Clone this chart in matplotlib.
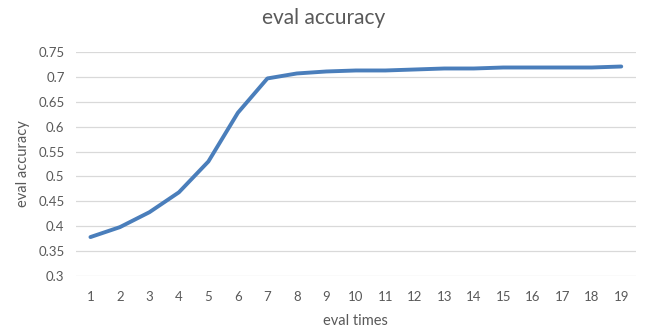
import numpy as np
from matplotlib import pyplot as plt

# eval accuracy per eval step
eval_times = list(range(1, 20))
eval_accuracy = [0.378, 0.398, 0.428, 0.468, 0.530, 0.628, 0.697, 0.707, 0.711, 0.713,
                 0.713, 0.715, 0.717, 0.717, 0.719, 0.719, 0.719, 0.719, 0.721]
y_ticks = [0.3, 0.35, 0.4, 0.45, 0.5, 0.55, 0.6, 0.65, 0.7, 0.75]
y_tick_labels = ["0.3", "0.35", "0.4", "0.45", "0.5", "0.55", "0.6", "0.65", "0.7", "0.75"]

plt.rcParams['font.family'] = ['Lato', 'DejaVu Sans']
text_color = '#595959'

fig = plt.figure(figsize=(6.47, 3.36), dpi=100)
ax = fig.add_axes([0.117, 0.179, 0.866, 0.666])

ax.plot(eval_times, eval_accuracy, color='#4a7ebb', linewidth=2.8, solid_capstyle='round')

ax.set_xlim(0.5, 19.5)
ax.set_ylim(0.3, 0.75)
ax.set_xticks(eval_times)
ax.set_yticks(y_ticks)
ax.set_yticklabels(y_tick_labels)

ax.grid(axis='y', color='#d9d9d9', linewidth=0.9)
ax.set_axisbelow(True)
for side in ['top', 'right', 'left', 'bottom']:
    ax.spines[side].set_visible(False)
ax.tick_params(length=0, labelsize=9.5, labelcolor=text_color)
ax.tick_params(axis='x', pad=11)
ax.tick_params(axis='y', pad=8)

ax.set_xlabel("eval times", fontsize=10.5, color=text_color, labelpad=8)
ax.set_ylabel("eval accuracy", fontsize=10.5, color=text_color, labelpad=6)
fig.text(0.5, 0.945, "eval accuracy", ha='center', va='center', fontsize=15, color=text_color)

plt.savefig("out.png", dpi=100)
